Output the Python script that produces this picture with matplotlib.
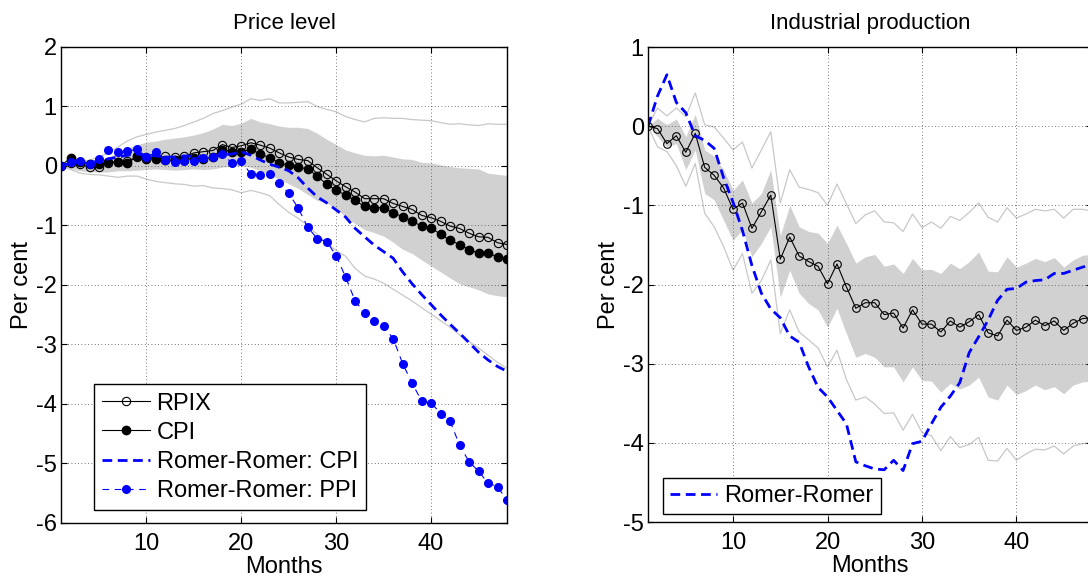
import matplotlib
matplotlib.use('Agg')
import matplotlib.pyplot as plt

plt.rcParams['font.family'] = ['Liberation Sans', 'DejaVu Sans']
plt.rcParams['axes.unicode_minus'] = False

months = list(range(1, 49))

# ---- price level panel ----
rpix = [0, 0.05, 0.03, -0.02, -0.01, 0.05, 0.07, 0.08, 0.15, 0.15, 0.13, 0.16,
        0.15, 0.16, 0.22, 0.24, 0.26, 0.36, 0.31, 0.34, 0.39, 0.35, 0.30, 0.22,
        0.15, 0.11, 0.09, -0.03, -0.14, -0.25, -0.35, -0.44, -0.55, -0.55, -0.55, -0.63,
        -0.68, -0.73, -0.83, -0.87, -0.93, -1.01, -1.05, -1.13, -1.19, -1.20, -1.29, -1.32]
cpi = [0, 0.14, 0.07, 0.03, 0.03, 0.07, 0.06, 0.05, 0.16, 0.12, 0.12, 0.10,
       0.10, 0.10, 0.13, 0.12, 0.15, 0.27, 0.24, 0.24, 0.28, 0.20, 0.14, 0.05,
       0.01, -0.02, -0.05, -0.17, -0.31, -0.41, -0.49, -0.58, -0.68, -0.70, -0.70, -0.79,
       -0.85, -0.93, -1.01, -1.04, -1.15, -1.25, -1.32, -1.41, -1.46, -1.46, -1.53, -1.57]
rr_cpi = [0, 0.05, 0.07, 0.06, 0.08, 0.12, 0.15, 0.18, 0.20, 0.18, 0.17, 0.15,
          0.15, 0.17, 0.16, 0.15, 0.15, 0.19, 0.20, 0.24, 0.18, 0.10, 0.03, -0.02,
          -0.08, -0.20, -0.37, -0.52, -0.62, -0.74, -0.86, -1.05, -1.19, -1.33, -1.44, -1.55,
          -1.78, -1.98, -2.16, -2.33, -2.50, -2.66, -2.81, -2.97, -3.13, -3.26, -3.37, -3.45]
rr_ppi = [0, 0.06, 0.08, 0.04, 0.12, 0.27, 0.24, 0.25, 0.28, 0.15, 0.23, 0.10,
          0.06, 0.08, 0.08, 0.13, 0.15, 0.20, 0.05, 0.09, -0.14, -0.16, -0.13, -0.28,
          -0.46, -0.71, -1.03, -1.22, -1.27, -1.51, -1.87, -2.27, -2.47, -2.61, -2.69, -2.90,
          -3.32, -3.65, -3.95, -3.98, -4.16, -4.29, -4.69, -4.97, -5.13, -5.33, -5.39, -5.62]
band_hi_p = [0, 0.03, 0.05, 0.07, 0.10, 0.15, 0.22, 0.30, 0.36, 0.40, 0.42, 0.45,
             0.47, 0.49, 0.52, 0.56, 0.62, 0.70, 0.68, 0.72, 0.80, 0.74, 0.71, 0.67,
             0.65, 0.65, 0.63, 0.55, 0.45, 0.36, 0.27, 0.22, 0.18, 0.17, 0.18, 0.15,
             0.12, 0.11, 0.06, 0.05, 0.02, -0.01, -0.03, -0.04, -0.05, -0.12, -0.14, -0.16]
band_lo_p = [0, -0.05, -0.08, -0.10, -0.10, -0.10, -0.08, -0.08, -0.07, -0.06, -0.05, -0.06,
             -0.07, -0.06, -0.05, -0.06, -0.05, -0.02, 0.0, 0.0, -0.02, -0.08, -0.15, -0.22,
             -0.30, -0.38, -0.48, -0.58, -0.62, -0.72, -0.85, -0.97, -1.07, -1.12, -1.18, -1.28,
             -1.40, -1.47, -1.58, -1.68, -1.78, -1.88, -1.98, -2.03, -2.08, -2.15, -2.18, -2.20]
line_hi_p = [0, 0.04, 0.07, 0.10, 0.15, 0.22, 0.32, 0.42, 0.49, 0.53, 0.57, 0.60,
             0.63, 0.68, 0.74, 0.80, 0.88, 0.93, 0.99, 1.04, 1.13, 1.10, 1.13, 1.06,
             1.06, 1.07, 1.08, 1.00, 0.95, 0.91, 0.83, 0.78, 0.74, 0.80, 0.81, 0.80,
             0.80, 0.78, 0.77, 0.76, 0.73, 0.70, 0.71, 0.69, 0.68, 0.71, 0.70, 0.70]
line_lo_p = [0, -0.06, -0.12, -0.14, -0.15, -0.17, -0.19, -0.17, -0.17, -0.22, -0.26, -0.28,
             -0.30, -0.31, -0.34, -0.33, -0.37, -0.38, -0.40, -0.45, -0.41, -0.45, -0.50, -0.65,
             -0.78, -0.88, -1.00, -1.15, -1.30, -1.42, -1.52, -1.72, -1.85, -1.90, -1.97, -2.07,
             -2.17, -2.27, -2.38, -2.49, -2.60, -2.71, -2.84, -2.95, -3.06, -3.18, -3.30, -3.40]

# ---- industrial production panel ----
ip = [0, -0.03, -0.22, -0.12, -0.33, -0.09, -0.52, -0.62, -0.78, -1.05, -0.97, -1.29,
      -1.08, -0.87, -1.68, -1.40, -1.64, -1.71, -1.77, -1.99, -1.74, -2.03, -2.30, -2.23,
      -2.23, -2.38, -2.36, -2.55, -2.32, -2.50, -2.50, -2.60, -2.46, -2.54, -2.47, -2.38,
      -2.61, -2.65, -2.45, -2.58, -2.54, -2.45, -2.52, -2.46, -2.58, -2.49, -2.43, -2.42]
rr_ip = [0, 0.38, 0.65, 0.30, 0.17, -0.12, -0.18, -0.28, -0.65, -0.96, -1.32, -1.76,
         -2.11, -2.31, -2.42, -2.65, -2.73, -3.04, -3.30, -3.42, -3.59, -3.76, -4.24, -4.29,
         -4.33, -4.34, -4.22, -4.35, -4.01, -3.98, -3.76, -3.55, -3.41, -3.24, -2.86, -2.66,
         -2.45, -2.20, -2.06, -2.05, -1.97, -1.95, -1.94, -1.86, -1.86, -1.82, -1.78, -1.75]
band_hi_i = [0, 0.10, 0.02, 0.09, -0.13, 0.15, -0.30, -0.38, -0.55, -0.81, -0.68, -0.97,
             -0.85, -0.55, -1.38, -1.00, -1.27, -1.33, -1.35, -1.48, -1.25, -1.48, -1.73, -1.65,
             -1.62, -1.77, -1.74, -1.86, -1.67, -1.81, -1.81, -1.86, -1.73, -1.80, -1.71, -1.59,
             -1.83, -1.84, -1.65, -1.78, -1.73, -1.67, -1.71, -1.66, -1.78, -1.69, -1.63, -1.62]
band_lo_i = [0, -0.13, -0.26, -0.22, -0.55, -0.30, -0.85, -0.93, -1.19, -1.44, -1.31, -1.65,
             -1.48, -1.27, -2.16, -1.82, -2.11, -2.24, -2.32, -2.54, -2.30, -2.62, -2.92, -2.87,
             -2.92, -3.04, -3.04, -3.23, -3.04, -3.21, -3.22, -3.36, -3.25, -3.32, -3.27, -3.17,
             -3.42, -3.46, -3.27, -3.39, -3.34, -3.27, -3.33, -3.29, -3.38, -3.27, -3.23, -3.22]
line_hi_i = [0, 0.23, 0.13, 0.23, 0.12, 0.42, 0.02, -0.01, -0.15, -0.30, -0.20, -0.53,
             -0.30, -0.07, -0.97, -0.55, -0.77, -0.80, -0.84, -1.00, -0.73, -0.98, -1.23, -1.12,
             -1.07, -1.21, -1.22, -1.33, -1.11, -1.28, -1.21, -1.29, -1.14, -1.19, -1.09, -0.97,
             -1.15, -1.21, -1.03, -1.16, -1.11, -1.05, -1.07, -1.05, -1.16, -1.05, -1.05, -1.07]
line_lo_i = [0, -0.26, -0.32, -0.50, -0.76, -0.47, -1.10, -1.27, -1.52, -1.82, -1.61, -2.11,
             -1.95, -1.69, -2.62, -2.32, -2.60, -2.70, -2.80, -3.04, -2.83, -3.20, -3.46, -3.42,
             -3.51, -3.63, -3.62, -3.84, -3.64, -3.87, -3.91, -4.10, -3.92, -4.06, -4.02, -3.93,
             -4.22, -4.23, -4.07, -4.22, -4.14, -4.08, -4.09, -4.04, -4.14, -4.04, -4.01, -4.00]

FS = 17
band_col = '#d1d1d1'
edge_col = '#c8c8c8'

def style_axes(ax, yticks):
    ax.set_xlim(1, 48)
    ax.set_xticks([10, 20, 30, 40])
    ax.set_yticks(yticks)
    ax.set_ylim(yticks[0], yticks[-1])
    ax.tick_params(direction='in', top=True, right=True, length=4, width=0.8,
                   labelsize=FS, pad=3)
    ax.tick_params(axis='x', pad=7)
    ax.grid(True, linestyle=(0, (1, 3)), color='0.3', linewidth=0.6)
    for s in ax.spines.values():
        s.set_linewidth(1.0)
    ax.set_xlabel('Months', fontsize=FS, labelpad=1)
    ax.set_ylabel('Per cent', fontsize=FS, labelpad=2)

fig = plt.figure(figsize=(10.88, 5.77), dpi=100)

ax1 = fig.add_axes([0.0561, 0.0936, 0.4099, 0.8250])
ax1.fill_between(months, band_lo_p, band_hi_p, color=band_col, linewidth=0, zorder=1)
ax1.plot(months, line_hi_p, color=edge_col, lw=0.9, zorder=1.2)
ax1.plot(months, line_lo_p, color=edge_col, lw=0.9, zorder=1.2)
ax1.plot(months, rpix, '-o', color='black', lw=0.8, ms=6, mfc='none', mec='black',
         mew=0.8, label='RPIX')
ax1.plot(months, cpi, '-o', color='black', lw=0.8, ms=6, mfc='black', mec='black',
         label='CPI')
ax1.plot(months, rr_cpi, color='blue', lw=2.0, linestyle=(0, (3.5, 2)),
         label='Romer-Romer: CPI')
ax1.plot(months, rr_ppi, color='blue', lw=0.8, linestyle=(0, (6, 5)), marker='o',
         ms=5.5, mfc='blue', mec='blue', label='Romer-Romer: PPI')
style_axes(ax1, [-6, -5, -4, -3, -2, -1, 0, 1, 2])
ax1.set_title('Price level', fontsize=FS - 1, pad=13)
leg1 = ax1.legend(loc='lower left', bbox_to_anchor=(0.074, 0.027), borderaxespad=0,
                  fontsize=FS, fancybox=False, edgecolor='black', framealpha=1,
                  handlelength=2.0, handletextpad=0.3, labelspacing=0.3, borderpad=0.35)
leg1.get_frame().set_linewidth(1.0)

ax2 = fig.add_axes([0.5956, 0.0953, 0.4081, 0.8232])
ax2.fill_between(months, band_lo_i, band_hi_i, color=band_col, linewidth=0, zorder=1)
ax2.plot(months, line_hi_i, color=edge_col, lw=0.9, zorder=1.2)
ax2.plot(months, line_lo_i, color=edge_col, lw=0.9, zorder=1.2)
ax2.plot(months, ip, '-o', color='black', lw=0.8, ms=5.5, mfc='none', mec='black',
         mew=0.8)
ax2.plot(months, rr_ip, color='blue', lw=2.0, linestyle=(0, (3.5, 2)), label='Romer-Romer')
style_axes(ax2, [-5, -4, -3, -2, -1, 0, 1])
ax2.set_title('Industrial production', fontsize=FS - 1, pad=13)
leg2 = ax2.legend(loc='lower left', bbox_to_anchor=(0.034, 0.017), borderaxespad=0,
                  fontsize=FS, fancybox=False, edgecolor='black', framealpha=1,
                  handlelength=2.0, handletextpad=0.3, borderpad=0.3)
leg2.get_frame().set_linewidth(1.0)

fig.savefig('out.png', dpi=100)
